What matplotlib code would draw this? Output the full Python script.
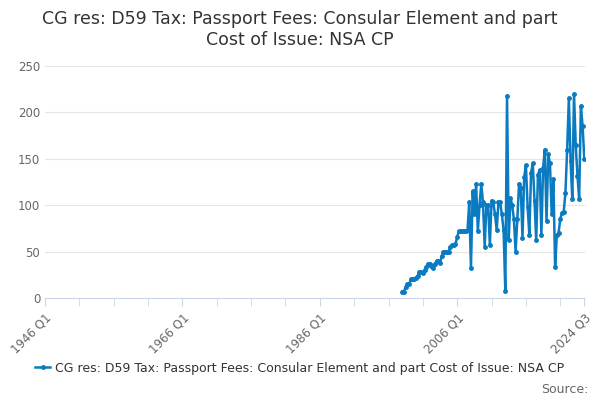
import numpy as np
import matplotlib.pyplot as plt

values = [
    7, 7, 12, 15, 15, 20, 21, 21, 22, 24, 28, 28, 27, 30, 33, 37,
    37, 35, 32, 37, 40, 40, 38, 45, 50, 50, 50, 50, 55, 57, 57, 58,
    66, 72, 72, 72, 72, 72, 73, 103, 32, 115, 90, 123, 72, 100, 123, 103,
    55, 100, 100, 57, 105, 103, 90, 73, 103, 103, 90, 73, 8, 218, 63, 108,
    100, 85, 50, 85, 123, 118, 65, 130, 143, 98, 68, 135, 145, 105, 62, 133,
    138, 68, 140, 160, 83, 155, 145, 90, 128, 33, 68, 70, 85, 92, 93, 113,
    160, 215, 148, 107, 220, 165, 132, 107, 207, 185, 150,
]
tick_years = [1946.0, 1966.0, 1986.0, 2006.0, 2024.5]
tick_labels = ["1946 Q1", "1966 Q1", "1986 Q1", "2006 Q1", "2024 Q3"]

end = 2024.5
x = end - 0.25 * np.arange(len(values))[::-1]

fig = plt.figure(figsize=(6, 4), dpi=100)
ax = fig.add_axes([0.075, 0.255, 0.9, 0.58])
color = "#0a7bc1"
ax.plot(x, values, color=color, lw=1.8, marker="o", ms=2.5,
        label="CG res: D59 Tax: Passport Fees: Consular Element and part Cost of Issue: NSA CP")
ax.set_xlim(1946.0, 2024.6)
ax.set_ylim(0, 250)
ax.set_yticks([0, 50, 100, 150, 200, 250])
ax.set_xticks(tick_years)
ax.set_xticklabels(tick_labels, rotation=45, ha="right", rotation_mode="anchor", color="#666666", fontsize=8.5)
ax.set_xticks(np.arange(1946, 2025, 5), minor=True)
ax.tick_params(axis="x", which="both", length=6, color="#ccd6eb")
ax.tick_params(axis="y", length=0, labelsize=8.5, labelcolor="#666666")
ax.grid(axis="y", color="#e6e6e6", lw=0.8)
for s in ["top", "right", "left"]:
    ax.spines[s].set_visible(False)
ax.spines["bottom"].set_color("#ccd6eb")
fig.suptitle("CG res: D59 Tax: Passport Fees: Consular Element and part\nCost of Issue: NSA CP",
             y=0.975, fontsize=12.5, color="#333333")
fig.legend(loc="lower center", bbox_to_anchor=(0.5, 0.035), frameon=False, fontsize=9,
           handlelength=1.2, handletextpad=0.4, labelcolor="#333333")
fig.text(0.98, 0.01, "Source:", ha="right", va="bottom", fontsize=9, color="#666666")
fig.savefig("out.png")
